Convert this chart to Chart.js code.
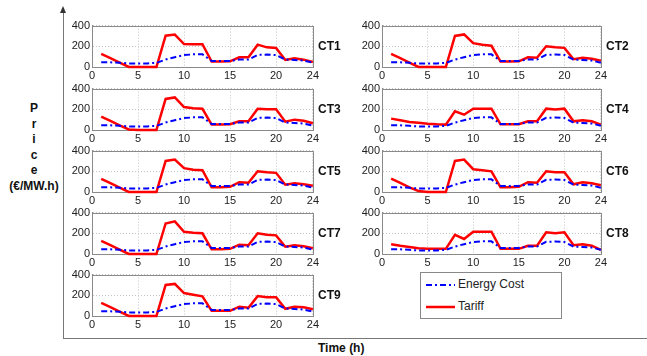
<!DOCTYPE html>
<html>
<head>
<meta charset="utf-8">
<script src="https://cdn.jsdelivr.net/npm/chart.js@4/dist/chart.umd.min.js"></script>
<style>
  body { margin: 0; background: #fff; }
  #wrap { position: relative; width: 647px; height: 356px; overflow: hidden; background: #fff;
          font-family: "Liberation Sans", Arial, sans-serif; color: #111; }
  canvas { position: absolute; }
  .ct { position: absolute; font-weight: bold; font-size: 12px; line-height: 14px; }
  .axisv { position: absolute; left: 63px; top: 12px; width: 1px; height: 326px; background: #777; }
  .axish { position: absolute; left: 63px; top: 338px; width: 584px; height: 1px; background: #777; }
  .arrow { position: absolute; left: 60px; top: 6px; width: 0; height: 0;
           border-left: 3.5px solid transparent; border-right: 3.5px solid transparent; border-bottom: 7px solid #333; }
  #ylab { position: absolute; left: 4px; top: 101px; width: 60px; text-align: center;
          font-weight: bold; font-size: 12px; line-height: 15.5px; }
  #xlab { position: absolute; left: 318px; top: 341px; font-weight: bold; font-size: 12px; }
  #legend { position: absolute; left: 420px; top: 272px; width: 140px; height: 45px; border: 1px solid #888;
            font-size: 12px; color: #222; }
  #legend div { position: absolute; left: 37px; }
  #legend svg { position: absolute; left: 0; top: 0; }
</style>
</head>
<body>
<div id="wrap">
  <div class="axisv"></div>
  <div class="arrow"></div>
  <div class="axish"></div>
  <div id="ylab">P<br>r<br>i<br>c<br>e<br>(€/MW.h)</div>
  <div id="xlab">Time (h)</div>
  <div id="legend">
    <svg width="140" height="45">
      <line x1="5" y1="12" x2="34" y2="12" stroke="#0000ff" stroke-width="2" stroke-dasharray="6 3 2 3"/>
      <line x1="5" y1="34" x2="34" y2="34" stroke="#ff0000" stroke-width="2.5"/>
    </svg>
    <div style="top:4px">Energy Cost</div>
    <div style="top:26px">Tariff</div>
  </div>
</div>
<script>
const hours = [1, 2, 3, 4, 5, 6, 7, 8, 9, 10, 11, 12, 13, 14, 15, 16, 17, 18, 19, 20, 21, 22, 23, 24];
const xTicks = [0, 5, 10, 15, 20, 24];
const yTicks = [0, 200, 400];

const energyCost = [45, 45, 40, 35, 35, 35, 40, 72, 95, 115, 122, 122, 58, 58, 58, 72, 72, 118, 120, 116, 72, 68, 62, 42];

const tariffCT1 = [126, 85, 42, 0, 0, 0, 0, 303, 313, 222, 220, 220, 52, 52, 55, 94, 94, 216, 190, 184, 68, 84, 71, 48];
const tariffCT2 = [126, 85, 42, 0, 0, 0, 0, 300, 315, 230, 215, 205, 52, 52, 55, 94, 90, 200, 190, 185, 75, 90, 80, 60];
const tariffCT3 = [130, 88, 45, 5, 0, 0, 0, 300, 315, 222, 210, 205, 52, 52, 55, 85, 85, 205, 200, 200, 80, 100, 90, 65];
const tariffCT4 = [110, 95, 77, 70, 61, 55, 52, 180, 148, 206, 206, 206, 55, 55, 55, 84, 84, 206, 197, 206, 84, 94, 84, 52];
const tariffCT5 = [126, 85, 42, 0, 0, 0, 0, 300, 313, 230, 215, 210, 45, 45, 50, 95, 90, 200, 190, 185, 70, 85, 75, 60];
const tariffCT6 = [130, 88, 45, 10, 0, 0, 0, 300, 313, 220, 210, 200, 45, 45, 50, 95, 90, 200, 190, 190, 75, 95, 85, 65];
const tariffCT7 = [126, 85, 42, 0, 0, 0, 0, 295, 315, 215, 205, 200, 45, 45, 50, 90, 85, 200, 185, 180, 70, 85, 75, 55];
const tariffCT8 = [95, 80, 68, 55, 50, 50, 50, 185, 145, 215, 215, 215, 50, 50, 50, 80, 80, 210, 200, 210, 85, 95, 80, 40];
const tariffCT9 = [126, 85, 42, 0, 0, 0, 0, 300, 310, 222, 206, 190, 50, 50, 50, 90, 80, 192, 182, 182, 70, 90, 85, 65];

const panelNames = ["CT1", "CT2", "CT3", "CT4", "CT5", "CT6", "CT7", "CT8", "CT9"];
const panelTariffs = [tariffCT1, tariffCT2, tariffCT3, tariffCT4, tariffCT5, tariffCT6, tariffCT7, tariffCT8, tariffCT9];

// panel geometry (plot area) in page pixels
const colLeft = [92, 382];
const colWidth = [221, 219];
const rowTop = [24, 87, 149, 211, 273];
const plotH = 43;
const yAxisW = 40, xAxisH = 16, padTop = 7, padRight = 8;

const wrap = document.getElementById("wrap");
const tickFont = { family: "'Liberation Sans', Arial, sans-serif", size: 11 };

const framePlugin = {
  id: "frame",
  beforeDatasetsDraw(chart) {
    const a = chart.chartArea, ctx = chart.ctx;
    ctx.save();
    ctx.strokeStyle = "#8a8a8a";
    ctx.lineWidth = 1;
    ctx.strokeRect(Math.round(a.left) + 0.5, Math.round(a.top) + 0.5, Math.round(a.right - a.left), Math.round(a.bottom - a.top));
    ctx.restore();
  },
};

panelNames.forEach((name, i) => {
  const col = i % 2, row = Math.floor(i / 2);
  const w = colWidth[col];
  const canvas = document.createElement("canvas");
  canvas.width = yAxisW + w + padRight;
  canvas.height = padTop + plotH + xAxisH;
  canvas.style.left = (colLeft[col] - yAxisW) + "px";
  canvas.style.top = (rowTop[row] - padTop) + "px";
  wrap.appendChild(canvas);

  const label = document.createElement("div");
  label.className = "ct";
  label.textContent = name;
  label.style.left = (colLeft[col] + w + 5) + "px";
  label.style.top = (rowTop[row] + 15) + "px";
  wrap.appendChild(label);

  new Chart(canvas, {
    type: "line",
    data: {
      datasets: [
        {
          label: "Energy Cost",
          data: hours.map((h, k) => ({ x: h, y: energyCost[k] })),
          borderColor: "#0000ff",
          borderWidth: 2,
          borderDash: [6, 3, 2, 3],
          pointRadius: 0,
          tension: 0,
          clip: 4,
        },
        {
          label: "Tariff",
          data: hours.map((h, k) => ({ x: h, y: panelTariffs[i][k] })),
          borderColor: "#ff0000",
          borderWidth: 2.5,
          pointRadius: 0,
          tension: 0,
          clip: 4,
        },
      ],
    },
    options: {
      responsive: false,
      animation: false,
      events: [],
      layout: { padding: { top: padTop, right: padRight, left: 0, bottom: 0 } },
      plugins: { legend: { display: false }, tooltip: { enabled: false } },
      scales: {
        x: {
          type: "linear",
          min: 0,
          max: 24,
          afterBuildTicks: (s) => { s.ticks = xTicks.map((v) => ({ value: v })); },
          afterFit: (s) => { s.height = xAxisH; },
          grid: { color: "#c4c4c4", drawTicks: false },
          border: { color: "#8a8a8a", dash: [1, 2] },
          ticks: { padding: 2, font: tickFont, color: "#222", maxRotation: 0, autoSkip: false },
        },
        y: {
          min: 0,
          max: 400,
          afterBuildTicks: (s) => { s.ticks = yTicks.map((v) => ({ value: v })); },
          afterFit: (s) => { s.width = yAxisW; },
          grid: { color: "#c4c4c4", drawTicks: false },
          border: { color: "#8a8a8a", dash: [1, 2] },
          ticks: { padding: 2, font: tickFont, color: "#222", autoSkip: false },
        },
      },
    },
    plugins: [framePlugin],
  });
});
</script>
</body>
</html>
